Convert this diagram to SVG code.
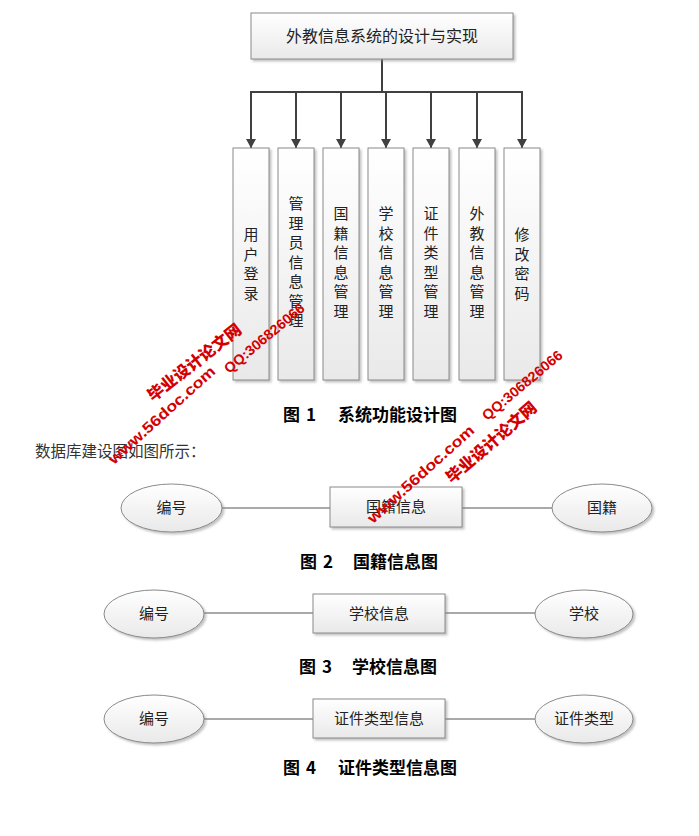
<svg xmlns="http://www.w3.org/2000/svg" width="699" height="836" viewBox="0 0 699 836">
<defs>
<linearGradient id="g" x1="0" y1="0" x2="0" y2="1">
<stop offset="0" stop-color="#ffffff"/>
<stop offset="1" stop-color="#e9e9e9"/>
</linearGradient>
<filter id="sh" x="-10%" y="-10%" width="130%" height="130%">
<feDropShadow dx="2" dy="2" stdDeviation="1.2" flood-color="#888" flood-opacity="0.5"/>
</filter>
<marker id="ar" markerUnits="userSpaceOnUse" markerWidth="10" markerHeight="10" refX="9" refY="5" orient="auto">
<path d="M0,0 L9,5 L0,10 Z" fill="#404040"/>
</marker>
<style>
.n{fill:url(#g);stroke:#8a8a8a;stroke-width:1;filter:url(#sh)}
.t{font-family:"Noto Sans CJK SC","Liberation Sans",sans-serif;font-size:15px;fill:#222;text-anchor:middle}
.tt{font-family:"Noto Sans CJK SC","Liberation Sans",sans-serif;font-size:16px;fill:#222;text-anchor:middle}
.cap{font-family:"Noto Sans CJK SC","Liberation Sans",sans-serif;font-size:17px;font-weight:bold;fill:#000}
.body{font-family:"Noto Sans CJK SC","Liberation Sans",sans-serif;font-size:15.5px;fill:#333}
.arr{stroke:#404040;stroke-width:2;fill:none}
.ln{stroke:#555;stroke-width:1.2;fill:none}
.wm{font-family:"Noto Sans CJK SC","Liberation Sans",sans-serif;font-weight:900;fill:#d40000}
.wl{font-family:"Liberation Sans",sans-serif;font-weight:bold;fill:#d40000}
</style>
</defs>
<rect width="699" height="836" fill="#fff"/>

<g id="connectors">
<line class="arr" x1="382" y1="59" x2="382" y2="92"/>
<line class="arr" x1="250" y1="92" x2="523" y2="92"/>
<line class="arr" x1="251" y1="91" x2="251" y2="148" marker-end="url(#ar)"/>
<line class="arr" x1="296" y1="92" x2="296" y2="148" marker-end="url(#ar)"/>
<line class="arr" x1="341" y1="92" x2="341" y2="148" marker-end="url(#ar)"/>
<line class="arr" x1="386" y1="92" x2="386" y2="148" marker-end="url(#ar)"/>
<line class="arr" x1="431" y1="92" x2="431" y2="148" marker-end="url(#ar)"/>
<line class="arr" x1="477" y1="92" x2="477" y2="148" marker-end="url(#ar)"/>
<line class="arr" x1="522" y1="91" x2="522" y2="148" marker-end="url(#ar)"/>
<line class="ln" x1="222" y1="508" x2="330" y2="508"/>
<line class="ln" x1="462" y1="508" x2="552" y2="508"/>
<line class="ln" x1="204" y1="613" x2="313" y2="613"/>
<line class="ln" x1="445" y1="613" x2="535" y2="613"/>
<line class="ln" x1="204" y1="719" x2="313" y2="719"/>
<line class="ln" x1="445" y1="719" x2="535" y2="719"/>
</g>

<g id="root"><rect class="n" x="251" y="13" width="262" height="46"/><text class="tt" x="382" y="42">外教信息系统的设计与实现</text></g>

<g id="c1"><rect class="n" x="233" y="148" width="36" height="232"/>
<text class="t" x="251" y="240">用</text><text class="t" x="251" y="259.5">户</text><text class="t" x="251" y="279">登</text><text class="t" x="251" y="298.5">录</text></g>
<g id="c2"><rect class="n" x="278" y="148" width="36" height="232"/>
<text class="t" x="296" y="209">管</text><text class="t" x="296" y="228.5">理</text><text class="t" x="296" y="248">员</text><text class="t" x="296" y="267.5">信</text><text class="t" x="296" y="287">息</text><text class="t" x="296" y="306.5">管</text><text class="t" x="296" y="326">理</text></g>
<g id="c3"><rect class="n" x="323" y="148" width="36" height="232"/>
<text class="t" x="341" y="219">国</text><text class="t" x="341" y="238.5">籍</text><text class="t" x="341" y="258">信</text><text class="t" x="341" y="277.5">息</text><text class="t" x="341" y="297">管</text><text class="t" x="341" y="316.5">理</text></g>
<g id="c4"><rect class="n" x="368" y="148" width="36" height="232"/>
<text class="t" x="386" y="219">学</text><text class="t" x="386" y="238.5">校</text><text class="t" x="386" y="258">信</text><text class="t" x="386" y="277.5">息</text><text class="t" x="386" y="297">管</text><text class="t" x="386" y="316.5">理</text></g>
<g id="c5"><rect class="n" x="413" y="148" width="36" height="232"/>
<text class="t" x="431" y="219">证</text><text class="t" x="431" y="238.5">件</text><text class="t" x="431" y="258">类</text><text class="t" x="431" y="277.5">型</text><text class="t" x="431" y="297">管</text><text class="t" x="431" y="316.5">理</text></g>
<g id="c6"><rect class="n" x="459" y="148" width="36" height="232"/>
<text class="t" x="477" y="219">外</text><text class="t" x="477" y="238.5">教</text><text class="t" x="477" y="258">信</text><text class="t" x="477" y="277.5">息</text><text class="t" x="477" y="297">管</text><text class="t" x="477" y="316.5">理</text></g>
<g id="c7"><rect class="n" x="504" y="148" width="36" height="232"/>
<text class="t" x="522" y="240">修</text><text class="t" x="522" y="259.5">改</text><text class="t" x="522" y="279">密</text><text class="t" x="522" y="298.5">码</text></g>

<g id="cap1"><text class="cap" x="283" y="421">图</text><text class="cap" x="306" y="421">1</text><text class="cap" x="338" y="421">系统功能设计图</text></g>
<text class="body" x="35" y="457">数据库建设图如图所示：</text>

<g id="f2-id"><ellipse class="n" cx="171.5" cy="508" rx="50.5" ry="24"/><text class="t" x="171.5" y="513">编号</text></g>
<g id="f2-ent"><rect class="n" x="330" y="487" width="132" height="40"/><text class="t" x="396" y="512">国籍信息</text></g>
<g id="f2-attr"><ellipse class="n" cx="602" cy="508" rx="50" ry="24"/><text class="t" x="602" y="513">国籍</text></g>
<g id="cap2"><text class="cap" x="300" y="568">图</text><text class="cap" x="323" y="568">2</text><text class="cap" x="353" y="568">国籍信息图</text></g>

<g id="f3-id"><ellipse class="n" cx="154" cy="614" rx="50" ry="24"/><text class="t" x="154" y="619">编号</text></g>
<g id="f3-ent"><rect class="n" x="313" y="594" width="132" height="39"/><text class="t" x="379" y="618.5">学校信息</text></g>
<g id="f3-attr"><ellipse class="n" cx="584" cy="614" rx="49" ry="24"/><text class="t" x="584" y="619">学校</text></g>
<g id="cap3"><text class="cap" x="299" y="673">图</text><text class="cap" x="322" y="673">3</text><text class="cap" x="352" y="673">学校信息图</text></g>

<g id="f4-id"><ellipse class="n" cx="154" cy="719" rx="50" ry="24"/><text class="t" x="154" y="724">编号</text></g>
<g id="f4-ent"><rect class="n" x="313" y="699" width="132" height="39"/><text class="t" x="379" y="723.5">证件类型信息</text></g>
<g id="f4-attr"><ellipse class="n" cx="584" cy="719" rx="49" ry="24"/><text class="t" x="584" y="724">证件类型</text></g>
<g id="cap4"><text class="cap" x="283" y="774">图</text><text class="cap" x="306" y="774">4</text><text class="cap" x="338" y="774">证件类型信息图</text></g>

<g id="watermark">
<text class="wm" font-size="16" transform="translate(153,402) rotate(-38)" textLength="114" lengthAdjust="spacingAndGlyphs">毕业设计论文网</text>
<text class="wl" font-size="15" transform="translate(114,465) rotate(-42)" textLength="138" lengthAdjust="spacingAndGlyphs">www.56doc.com</text>
<text class="wl" font-size="14" transform="translate(229,374) rotate(-40)" textLength="100" lengthAdjust="spacingAndGlyphs">QQ:306826066</text>
<text class="wl" font-size="15" transform="translate(373,524) rotate(-42)" textLength="138" lengthAdjust="spacingAndGlyphs">www.56doc.com</text>
<text class="wl" font-size="14" transform="translate(487,421) rotate(-40)" textLength="100" lengthAdjust="spacingAndGlyphs">QQ:306826066</text>
<text class="wm" font-size="16" transform="translate(452,484) rotate(-41)" textLength="114" lengthAdjust="spacingAndGlyphs">毕业设计论文网</text>
</g>
</svg>
